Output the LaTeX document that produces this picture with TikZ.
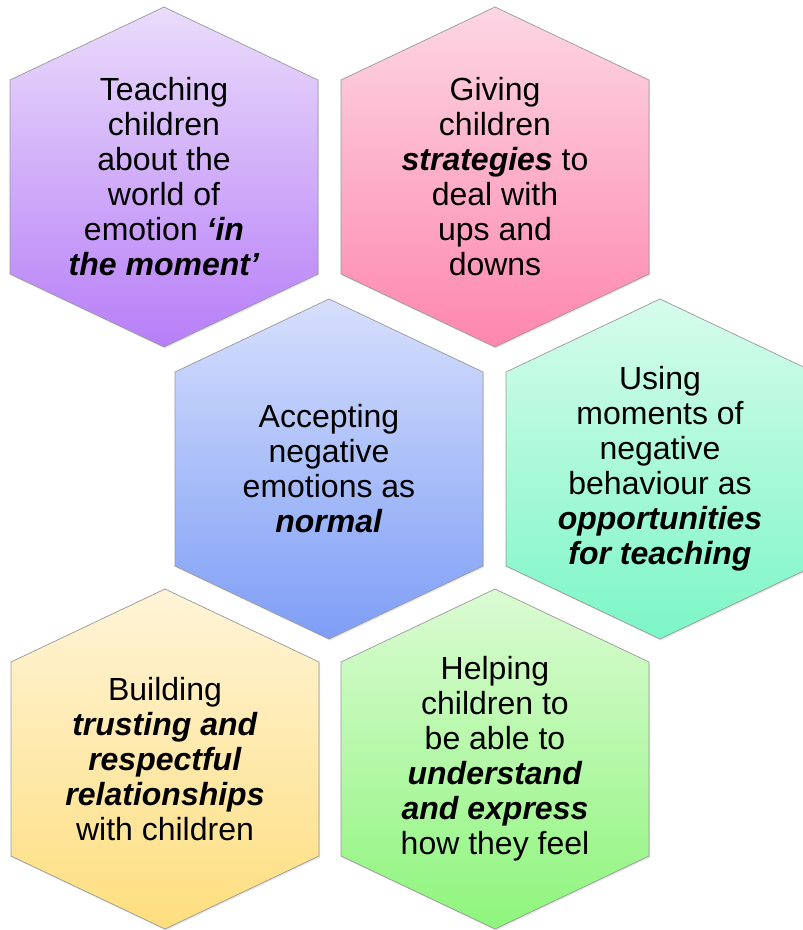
\documentclass[tikz,border=0pt]{standalone}
\usepackage{fontspec}
\setmainfont{Liberation Sans}
\usetikzlibrary{shadows}

% cell colours, light at the top and stronger at the bottom
\definecolor{lilacTop}{HTML}{EADCFB}
\definecolor{lilacBot}{HTML}{B77EF7}
\definecolor{roseTop}{HTML}{FDD6E4}
\definecolor{roseBot}{HTML}{FE86AE}
\definecolor{skyTop}{HTML}{D6DFFC}
\definecolor{skyBot}{HTML}{7E9EF6}
\definecolor{mintTop}{HTML}{D6FCEB}
\definecolor{mintBot}{HTML}{7CF6C6}
\definecolor{sandTop}{HTML}{FFF4D8}
\definecolor{sandBot}{HTML}{FEDE7E}
\definecolor{leafTop}{HTML}{DBFBD3}
\definecolor{leafBot}{HTML}{8EF57C}

\newcommand{\stress}[1]{\textbf{\textit{#1}}}

\begin{document}
\begin{tikzpicture}[x=1pt, y=-1pt,
		hexcell/.style 2 args={top color=#1, bottom color=#2, draw=gray!80, line width=0.7pt,
			drop shadow={opacity=0.2, shadow xshift=1pt, shadow yshift=-1.5pt}},
		hex outline/.style={insert path={(0,-170) -- (154,-97) -- (154,97) -- (0,170) -- (-154,97) -- (-154,-97) -- cycle}},
		cell text/.style={align=center, inner sep=0pt, font=\fontsize{32}{35}\selectfont}]
			\useasboundingbox (0,0) rectangle (803,930);
			
			% Top row
			\path[shift={(164,177)}, hexcell={lilacTop}{lilacBot}, hex outline];
			\node[cell text] (moment) at (164,177) {Teaching\\children\\about the\\world of\\emotion \stress{‘in}\\\stress{the moment’}};
			
			\path[shift={(495,177)}, hexcell={roseTop}{roseBot}, hex outline];
			\node[cell text] (strategies) at (495,177) {Giving\\children\\\stress{strategies} to\\deal with\\ups and\\downs};
			
			% Middle row
			\path[shift={(329,469)}, hexcell={skyTop}{skyBot}, hex outline];
			\node[cell text] (normal) at (329,469) {Accepting\\negative\\emotions as\\\stress{normal}};
			
			\path[shift={(660,469)}, hexcell={mintTop}{mintBot}, hex outline];
			\node[cell text] (teaching) at (660,469) {Using\\moments of\\negative\\behaviour as\\\stress{opportunities}\\\stress{for teaching}};
			
			% Bottom row
			\path[shift={(165,759)}, hexcell={sandTop}{sandBot}, hex outline];
			\node[cell text] (trust) at (165,759) {Building\\\stress{trusting and}\\\stress{respectful}\\\stress{relationships}\\with children};
			
			\path[shift={(495,759)}, hexcell={leafTop}{leafBot}, hex outline];
			\node[cell text] (express) at (495,759) {Helping\\children to\\be able to\\\stress{understand}\\\stress{and express}\\how they feel};
		\end{tikzpicture}
\end{document}
